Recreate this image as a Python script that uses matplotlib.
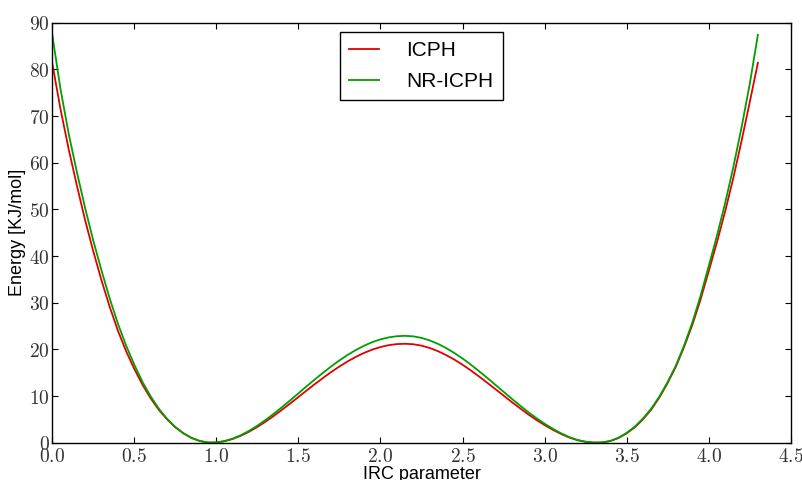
import matplotlib
matplotlib.use("Agg")
import matplotlib.pyplot as plt
from matplotlib.ticker import FuncFormatter, MultipleLocator

irc = [0.00, 0.05, 0.10, 0.15, 0.20, 0.25, 0.30, 0.35, 0.40, 0.45,
       0.50, 0.55, 0.60, 0.65, 0.70, 0.75, 0.80, 0.85, 0.90, 0.95,
       1.00, 1.05, 1.10, 1.15, 1.20, 1.25, 1.30, 1.35, 1.40, 1.45,
       1.50, 1.55, 1.60, 1.65, 1.70, 1.75, 1.80, 1.85, 1.90, 1.95,
       2.00, 2.05, 2.10, 2.15, 2.20, 2.25, 2.30, 2.35, 2.40, 2.45,
       2.50, 2.55, 2.60, 2.65, 2.70, 2.75, 2.80, 2.85, 2.90, 2.95,
       3.00, 3.05, 3.10, 3.15, 3.20, 3.25, 3.30, 3.35, 3.40, 3.45,
       3.50, 3.55, 3.60, 3.65, 3.70, 3.75, 3.80, 3.85, 3.90, 3.95,
       4.00, 4.05, 4.10, 4.15, 4.20, 4.25, 4.30]

icph = [81.3, 71.5, 62.9, 55.1, 47.7, 41.0, 34.8, 29.1, 24.0, 19.6,
        15.8, 12.4, 9.5, 7.0, 5.0, 3.3, 2.0, 1.0, 0.35, 0.03,
        0.05, 0.32, 0.81, 1.50, 2.37, 3.38, 4.52, 5.75, 7.06, 8.41,
        9.80, 11.19, 12.56, 13.88, 15.15, 16.33, 17.42, 18.40, 19.24, 19.95,
        20.50, 20.90, 21.13, 21.20, 21.10, 20.80, 20.30, 19.62, 18.78, 17.81,
        16.71, 15.51, 14.21, 12.87, 11.49, 10.11, 8.72, 7.39, 6.08, 4.88,
        3.78, 2.77, 1.88, 1.12, 0.54, 0.19, 0.02, 0.05, 0.35, 1.0,
        2.0, 3.3, 5.0, 7.1, 9.7, 12.8, 16.3, 20.5, 25.2, 30.6,
        36.7, 42.9, 49.5, 56.7, 64.6, 72.9, 81.4]

nr_icph = [87.4, 75.8, 66.2, 58.0, 50.3, 43.3, 36.9, 30.9, 25.5, 20.8,
           16.7, 13.0, 9.9, 7.25, 5.1, 3.35, 2.0, 1.0, 0.35, 0.03,
           0.05, 0.35, 0.87, 1.62, 2.56, 3.65, 4.88, 6.21, 7.62, 9.08,
           10.58, 12.09, 13.56, 14.99, 16.36, 17.64, 18.82, 19.87, 20.78, 21.55,
           22.14, 22.57, 22.82, 22.90, 22.79, 22.46, 21.92, 21.19, 20.28, 19.23,
           18.05, 16.75, 15.35, 13.90, 12.41, 10.92, 9.42, 7.98, 6.57, 5.27,
           4.08, 2.99, 2.03, 1.21, 0.58, 0.21, 0.02, 0.05, 0.37, 1.05,
           2.1, 3.45, 5.2, 7.3, 9.9, 13.0, 16.5, 20.8, 25.7, 31.4,
           37.8, 44.3, 51.3, 59.0, 67.5, 76.8, 87.4]

series_labels = ["ICPH", "NR-ICPH"]

plt.rcParams['mathtext.fontset'] = 'cm'
sans = ['Liberation Sans', 'DejaVu Sans']

fig = plt.figure(figsize=(8.03, 4.80), dpi=100)
ax = fig.add_axes([0.0651, 0.0777, 0.9196, 0.875])

ax.plot(irc, icph, color='#e00000', lw=1.3, label=series_labels[0])
ax.plot(irc, nr_icph, color='#009f00', lw=1.3, label=series_labels[1])

ax.set_xlim(0, 4.5)
ax.set_ylim(0, 90)
ax.xaxis.set_major_locator(MultipleLocator(0.5))
ax.yaxis.set_major_locator(MultipleLocator(10))
ax.xaxis.set_major_formatter(FuncFormatter(lambda v, p: r'$%.1f$' % v))
ax.yaxis.set_major_formatter(FuncFormatter(lambda v, p: r'$%d$' % round(v)))
ax.tick_params(direction='in', top=True, right=True, length=4, width=0.8,
               labelsize=14, labelcolor='#333333')
ax.tick_params(axis='y', pad=2)
ax.tick_params(axis='x', pad=3)
for s in ax.spines.values():
    s.set_linewidth(1.0)

ax.set_xlabel('IRC parameter', fontsize=13, family=sans, labelpad=0)
ax.set_ylabel('Energy [KJ/mol]', fontsize=13, family=sans)
ax.yaxis.set_label_coords(-0.035, 0.5)

leg = ax.legend(loc='upper center', bbox_to_anchor=(0.5, 1.0), fancybox=False,
                framealpha=1, edgecolor='black', prop={'family': sans, 'size': 15},
                handlelength=1.45, handletextpad=1.3, borderpad=0.45,
                labelspacing=0.55, borderaxespad=0.45)
leg.get_frame().set_linewidth(1.0)

fig.savefig('out.png', dpi=100)
